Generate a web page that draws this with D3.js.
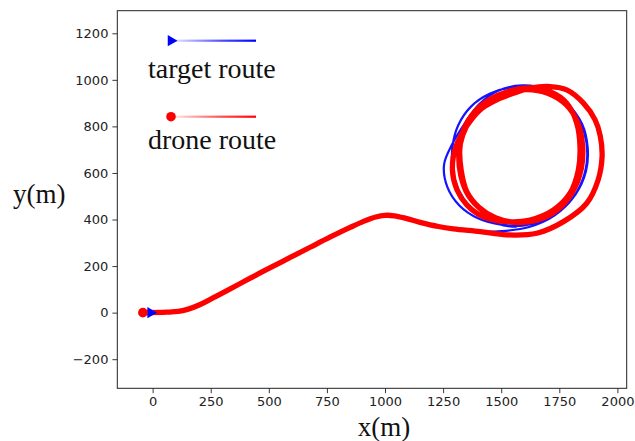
<!DOCTYPE html>
<html>
<head>
<meta charset="utf-8">
<script src="https://cdn.jsdelivr.net/npm/d3@7"></script>
<style>
	body { margin: 0; background: #fff; }
	svg { display: block; }
</style>
</head>
<body>
<svg id="chart"></svg>
<script>

// shared road from the start to the loop
var road = [[0, 0], [60, 2], [110, 5], [150, 14], [200, 33], [250, 58], [330, 100], [420, 148], [500, 190],
	[590, 236], [680, 282], [765, 325], [850, 366], [910, 393], [960, 411], [1000, 418], [1040, 416],
	[1090, 405], [1151, 388], [1230, 370], [1294, 360], [1409, 348]];

// target keeps circling around the point ~(1565, 670)
var targetLoop = [[1500, 350], [1620, 368], [1730, 418], [1820, 508], [1865, 608], [1872, 710], [1848, 810],
	[1782, 900], [1692, 960], [1590, 976], [1485, 952], [1405, 895], [1345, 815], [1290, 725], [1254, 635],
	[1268, 540], [1320, 460], [1400, 405], [1500, 378], [1600, 375], [1700, 405], [1790, 470], [1850, 570],
	[1870, 670], [1858, 770], [1810, 860], [1740, 925], [1650, 962], [1550, 968], [1450, 940], [1370, 885],
	[1315, 805], [1290, 710], [1292, 610], [1320, 520], [1370, 450], [1440, 400], [1510, 375], [1567, 369]];

// drone overshoots on the first lap, then two tighter laps
var droneLoop = [[1524, 334], [1653, 341], [1768, 391], [1868, 470], [1917, 570], [1934, 670], [1926, 760],
	[1904, 828], [1854, 900], [1782, 957], [1710, 971], [1624, 964], [1552, 942], [1481, 914], [1409, 871],
	[1350, 799], [1305, 713], [1290, 613], [1310, 527], [1352, 463], [1423, 412], [1524, 391], [1624, 398],
	[1725, 441], [1796, 513], [1832, 613], [1839, 713], [1825, 814], [1782, 900], [1710, 949], [1620, 965],
	[1530, 950], [1450, 915], [1385, 862], [1340, 790], [1322, 705], [1328, 610], [1352, 520], [1405, 452],
	[1475, 408], [1560, 388], [1650, 396], [1740, 440], [1808, 520], [1845, 620], [1850, 720], [1830, 815],
	[1780, 892], [1700, 942], [1610, 958], [1520, 945], [1440, 905], [1378, 845], [1335, 765], [1318, 680],
	[1326, 590], [1358, 505], [1418, 440], [1490, 400], [1550, 388]];

var droneStart = [-42, 0];

var xTicks = [0, 250, 500, 750, 1000, 1250, 1500, 1750, 2000];
var yTicks = [-200, 0, 200, 400, 600, 800, 1000, 1200];

var legendItems = ["target route", "drone route"];

(function() {

	var targetRoute = road.concat(targetLoop);
	var droneRoute = [droneStart].concat(road.slice(1), droneLoop);

	var W = 635, H = 441;
	var pLeft = 117.3, pRight = 626.7, pTop = 10.7, pBottom = 388.3;

	var svg = d3.select("#chart")
		.attr("width", W)
		.attr("height", H);

	var x = d3.scaleLinear()
		.domain([-152, 2040])
		.range([pLeft, pRight]);

	var y = d3.scaleLinear()
		.domain([-325, 1297])
		.range([pBottom, pTop]);

	var line = d3.line()
		.x(function(d) { return x(d[0]); })
		.y(function(d) { return y(d[1]); })
		.curve(d3.curveCatmullRom.alpha(0.5));

	// routes
	svg.append("path")
		.attr("d", line(targetRoute))
		.style("fill", "none")
		.style("stroke", "#1414ff")
		.style("stroke-width", 2.2)
		.style("stroke-linejoin", "round");

	svg.append("path")
		.attr("d", line(droneRoute))
		.style("fill", "none")
		.style("stroke", "#ff0000")
		.style("stroke-width", 5.3)
		.style("stroke-linejoin", "round")
		.style("stroke-linecap", "round");

	// start markers
	var tri = d3.symbol().type(d3.symbolTriangle).size(55);
	svg.append("path")
		.attr("d", tri())
		.attr("transform", "translate(" + (x(targetRoute[0][0]) - 2) + "," + y(targetRoute[0][1]) + ") rotate(90)")
		.style("fill", "#0000ff");

	svg.append("circle")
		.attr("cx", x(droneStart[0]))
		.attr("cy", y(droneStart[1]))
		.attr("r", 4.8)
		.style("fill", "#ff0000");

	// axes
	var xAxis = d3.axisBottom(x).tickValues(xTicks).tickSize(4.9).tickPadding(4)
		.tickFormat(d3.format("d"));
	var yAxis = d3.axisLeft(y).tickValues(yTicks).tickSize(4.9).tickPadding(4)
		.tickFormat(function(d) { return d < 0 ? "\u2212" + (-d) : d; });

	svg.append("g")
		.attr("transform", "translate(0," + pBottom + ")")
		.call(xAxis);

	svg.append("g")
		.attr("transform", "translate(" + pLeft + ",0)")
		.call(yAxis);

	svg.selectAll(".domain").remove();
	svg.selectAll(".tick line").style("stroke", "#222").style("stroke-width", 0.9);
	svg.selectAll(".tick text")
		.style("font-family", "DejaVu Sans, sans-serif")
		.style("font-size", "13px")
		.style("fill", "#222");

	svg.append("rect")
		.attr("x", pLeft)
		.attr("y", pTop)
		.attr("width", pRight - pLeft)
		.attr("height", pBottom - pTop)
		.style("fill", "none")
		.style("stroke", "#222")
		.style("stroke-width", 1);

	// axis titles
	svg.append("text")
		.attr("x", 384)
		.attr("y", 436)
		.attr("text-anchor", "middle")
		.style("font-family", "Liberation Serif, serif")
		.style("font-size", "27px")
		.style("fill", "#111")
		.text("x(m)");

	svg.append("text")
		.attr("x", 13)
		.attr("y", 203)
		.style("font-family", "Liberation Serif, serif")
		.style("font-size", "27px")
		.style("fill", "#111")
		.text("y(m)");

	// legend: fading line with marker, label below
	var defs = svg.append("defs");
	var legendColors = ["#0000ff", "#ff0000"];
	legendColors.forEach(function(c, i) {
		var g = defs.append("linearGradient")
			.attr("id", "fade" + i)
			.attr("x1", "0%").attr("x2", "100%");
		g.append("stop").attr("offset", "0%").attr("stop-color", c).attr("stop-opacity", 0.08);
		g.append("stop").attr("offset", "60%").attr("stop-color", c).attr("stop-opacity", 0.7);
		g.append("stop").attr("offset", "100%").attr("stop-color", c).attr("stop-opacity", 1);
	});

	var legend = svg.selectAll("g.legend")
		.data(legendItems)
		.enter().append("g")
		.attr("class", "legend")
		.attr("transform", function(d, i) { return "translate(0," + (i * 76) + ")"; });

	legend.append("rect")
		.attr("x", 172)
		.attr("y", 39.6)
		.attr("width", 84)
		.attr("height", 2.2)
		.style("fill", function(d, i) { return "url(#fade" + i + ")"; });

	legend.each(function(d, i) {
		var g = d3.select(this);
		if (i == 0) {
			g.append("path")
				.attr("d", tri())
				.attr("transform", "translate(171,40.7) rotate(90)")
				.style("fill", "#0000ff");
		} else {
			g.append("circle")
				.attr("cx", 171)
				.attr("cy", 40.7)
				.attr("r", 4.8)
				.style("fill", "#ff0000");
		}
	});

	legend.append("text")
		.attr("x", 148)
		.attr("y", function(d, i) { return i == 0 ? 78.3 : 73.3; })
		.style("font-family", "Liberation Serif, serif")
		.style("font-size", "28px")
		.style("fill", "#111")
		.text(function(d) { return d; });

})();

</script>
</body>
</html>
